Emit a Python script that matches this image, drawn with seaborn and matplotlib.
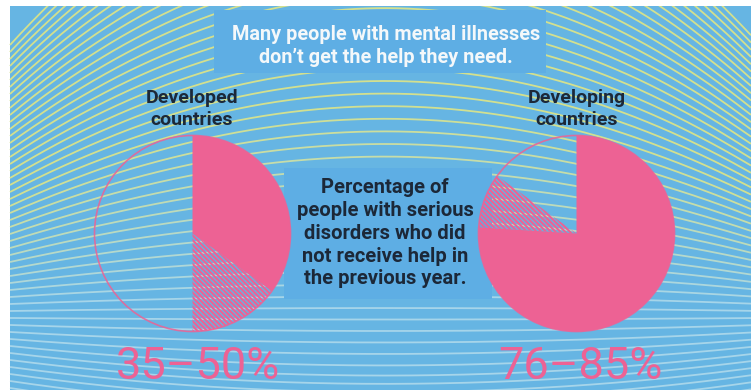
import numpy as np
import matplotlib
matplotlib.use("Agg")
import matplotlib.pyplot as plt
import matplotlib.colors as mcolors
from matplotlib.patches import Rectangle, Circle
import seaborn as sns

# ---------------- data ----------------
groups = ["Developed\ncountries", "Developing\ncountries"]
no_help_low = [35, 76]      # % of people with serious disorders who got no help (low estimate)
no_help_high = [50, 85]     # high estimate
range_labels = ["35–50%", "76–85%"]
title_lines = ["Many people with mental illnesses", "don’t get the help they need."]
note_lines = ["Percentage of", "people with serious", "disorders who did",
              "not receive help in", "the previous year."]

# ---------------- style ----------------
sns.set_theme(style="white")
plt.rcParams["font.family"] = ["Roboto", "DejaVu Sans"]
plt.rcParams["hatch.linewidth"] = 1.5

W, H = 751, 390
BG = "#66b5e3"
BOX = "#5eaee4"
PINK = "#ed6294"
INK = "#1c2838"


def Y(y):
    return H - y


fig = plt.figure(figsize=(W / 100, H / 100), dpi=100, facecolor="white")
ax = fig.add_axes([0, 0, 1, 1])
ax.set_axis_off()

# background panel
ax.add_patch(Rectangle((10, 0), W - 10, H - 6, facecolor=BG, edgecolor="none", zorder=0))

# decorative ripple lines
xs = np.linspace(10, W, 500)
u = (xs - 385) / 375
yell = np.array(mcolors.to_rgb("#d3e08e"))
pale = np.array(mcolors.to_rgb("#a6d5ea"))
for yl in np.arange(45, 400, 7.0):
    b = np.interp(yl, [45, 80, 175, 250, 300, 350, 420], [205, 180, 112, 52, 10, -22, -35])
    ys = yl - b * (1 - u ** 2)
    t = np.clip((yl - 195) / 110, 0, 1)
    col = yell * (1 - t) + pale * t
    ax.plot(xs, Y(ys), color=col, lw=1.3, zorder=1, solid_capstyle="butt")

# white border strip on top
ax.add_patch(Rectangle((0, H - 6), W, 6, facecolor="white", edgecolor="none", zorder=1.5))

# text boxes
ax.add_patch(Rectangle((214, Y(73)), 546 - 214, 73 - 10, facecolor=BOX, edgecolor="none", zorder=2))
ax.add_patch(Rectangle((284, Y(299)), 492 - 284, 299 - 168, facecolor=BOX, edgecolor="none", zorder=2))

# pies
centers = [(192.5, 233.5), (576.5, 233.5)]
R = 98
for i, (cx, cy) in enumerate(centers):
    vals = [no_help_low[i], no_help_high[i] - no_help_low[i], 100 - no_help_high[i]]
    wedges, _ = ax.pie(vals, colors=[PINK, "none", "none"], startangle=90, counterclock=False,
                       radius=R, center=(cx, Y(cy)), frame=True,
                       wedgeprops=dict(linewidth=0))
    for w in wedges:
        w.set_zorder(3)
    wedges[1].set_facecolor("none")
    wedges[1].set_edgecolor(PINK)
    wedges[1].set_hatch("\\" * 7)
    wedges[1].set_linewidth(0)
    ax.add_patch(Circle((cx, Y(cy)), R, fill=False, edgecolor=PINK, lw=1.2, alpha=0.85, zorder=3.5))

# texts
for k, line in enumerate(title_lines):
    ax.text(386, Y([39.5, 63][k]), line, ha="center", va="baseline", color="#f4f8fa",
            fontsize=14.3, fontweight="bold", zorder=5)

for k, line in enumerate(note_lines):
    ax.text(385, Y([193, 216, 239, 262, 284][k]), line, ha="center", va="baseline",
            color=INK, fontsize=14.5, fontweight="bold", zorder=5)

label_x = [192, 577]
for i, g in enumerate(groups):
    for k, line in enumerate(g.split("\n")):
        ax.text(label_x[i], Y([103, 125][k]), line, ha="center", va="baseline", color=INK,
                fontsize=14, fontweight="bold", zorder=5)

pct_x = [198, 580]
for i, lab in enumerate(range_labels):
    ax.text(pct_x[i], Y(379), lab, ha="center", va="baseline", color=PINK,
            fontsize=32.5, fontweight="normal", zorder=5)

ax.set_xlim(0, W)
ax.set_ylim(0, H)
ax.set_aspect("equal")
ax.set_autoscale_on(False)
fig.savefig("out.png", dpi=100, facecolor="white")
